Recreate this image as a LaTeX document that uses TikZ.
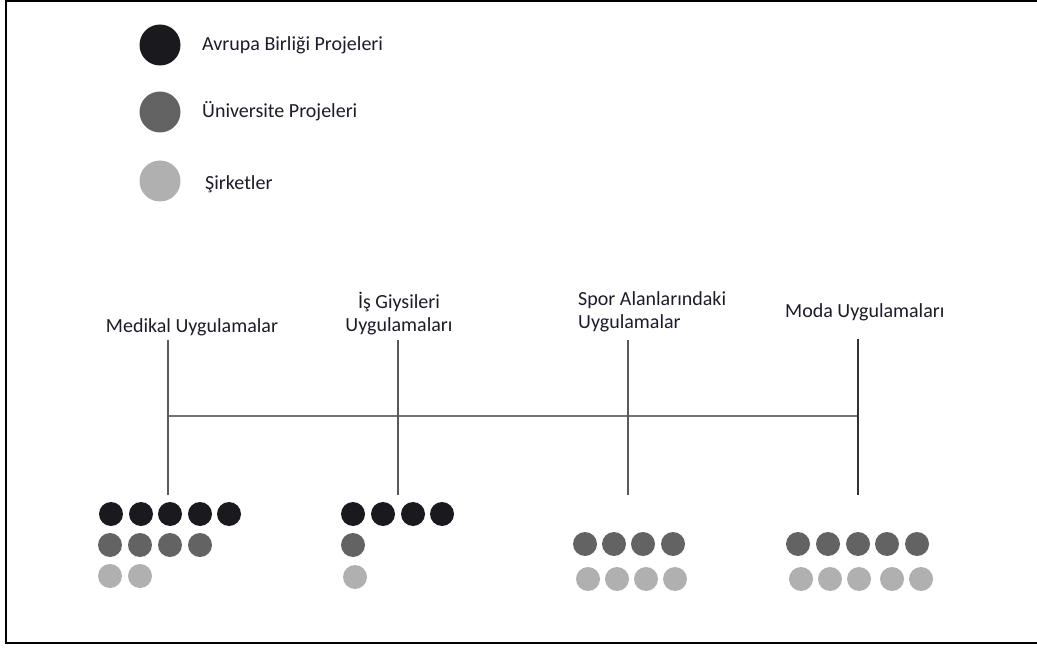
\documentclass[tikz,border=0pt]{standalone}
\usepackage{fontspec}
\setmainfont{Carlito}
\definecolor{cblack}{HTML}{1A1A1E}
\definecolor{cdark}{HTML}{636363}
\definecolor{clight}{HTML}{B0B0B0}
\definecolor{ctext}{HTML}{1C1C2A}
\definecolor{cline}{HTML}{5A5A5A}
\begin{document}
\begin{tikzpicture}[x=1pt,y=-1pt,
  legdot/.style={circle,inner sep=0pt,minimum size=41pt},
  dot/.style={circle,inner sep=0pt,minimum size=24pt},
  lbl/.style={inner sep=0pt,text=ctext,font=\fontsize{20}{23}\selectfont},
  vline/.style={draw=cline,line width=1.6pt},
  hline/.style={draw=cline!85,line width=2.4pt}]
\useasboundingbox (0,0) rectangle (1037,650);
\fill[white] (0,0) rectangle (1037,650);
% frame
\draw[line width=2.4pt,black] (1037,1.2) -- (6,1.2) -- (6,643) -- (1037,643);
% legend
\node[legdot,fill=cblack] (l1) at (160,45) {};
\node[legdot,fill=cdark] (l2) at (160,112) {};
\node[legdot,fill=clight] (l3) at (160,181) {};
\node[lbl,anchor=west] (t1) at (202,45) {Avrupa Birliği Projeleri};
\node[lbl,anchor=west] (t2) at (202,111) {Üniversite Projeleri};
\node[lbl,anchor=west] (t3) at (205,184) {Şirketler};
% category labels
\node[lbl] (c1) at (192,327) {Medikal Uygulamalar};
\node[lbl,align=center] (c2) at (399,314) {İş Giysileri\\Uygulamaları};
\node[lbl,align=left,anchor=west] (c3) at (578,312) {Spor Alanlarındaki\\Uygulamalar};
\node[lbl,anchor=west] (c4) at (785,312) {Moda Uygulamaları};
% coordinates
\coordinate (a1) at (168,340); \coordinate (b1) at (168,495); \coordinate (j1) at (168,416);
\coordinate (a2) at (398,340); \coordinate (b2) at (398,495); \coordinate (j2) at (398,416);
\coordinate (a3) at (628,340); \coordinate (b3) at (628,495); \coordinate (j3) at (628,416);
\coordinate (a4) at (858,339); \coordinate (b4) at (858,495); \coordinate (j4) at (858,416);
\draw[hline] (j1) -- (j2) -- (j3) -- (j4);
\draw[vline] (a1) -- (b1);
\draw[vline] (a2) -- (b2);
\draw[vline] (a3) -- (b3);
\draw[vline,draw=black!80] (a4) -- (b4);
% dots: Medikal
\foreach \x [count=\i] in {111,141,170,200,229} \node[dot,fill=cblack] (m1-\i) at (\x,514) {};
\foreach \x [count=\i] in {110,140,170,200} \node[dot,fill=cdark] (m2-\i) at (\x,545) {};
\foreach \x [count=\i] in {110,140} \node[dot,fill=clight] (m3-\i) at (\x,576) {};
% dots: Is Giysileri
\foreach \x [count=\i] in {353,383,413,442} \node[dot,fill=cblack] (g1-\i) at (\x,514) {};
\node[dot,fill=cdark] (g2-1) at (353,545) {};
\node[dot,fill=clight] (g3-1) at (355,577) {};
% dots: Spor
\foreach \x [count=\i] in {585,614,643,673} \node[dot,fill=cdark] (s2-\i) at (\x,544) {};
\foreach \x [count=\i] in {588,617,646,675} \node[dot,fill=clight] (s3-\i) at (\x,579) {};
% dots: Moda
\foreach \x [count=\i] in {798,828,858,887,917} \node[dot,fill=cdark] (d2-\i) at (\x,544) {};
\foreach \x [count=\i] in {801,830,859,892,921} \node[dot,fill=clight] (d3-\i) at (\x,579) {};
\end{tikzpicture}
\end{document}
